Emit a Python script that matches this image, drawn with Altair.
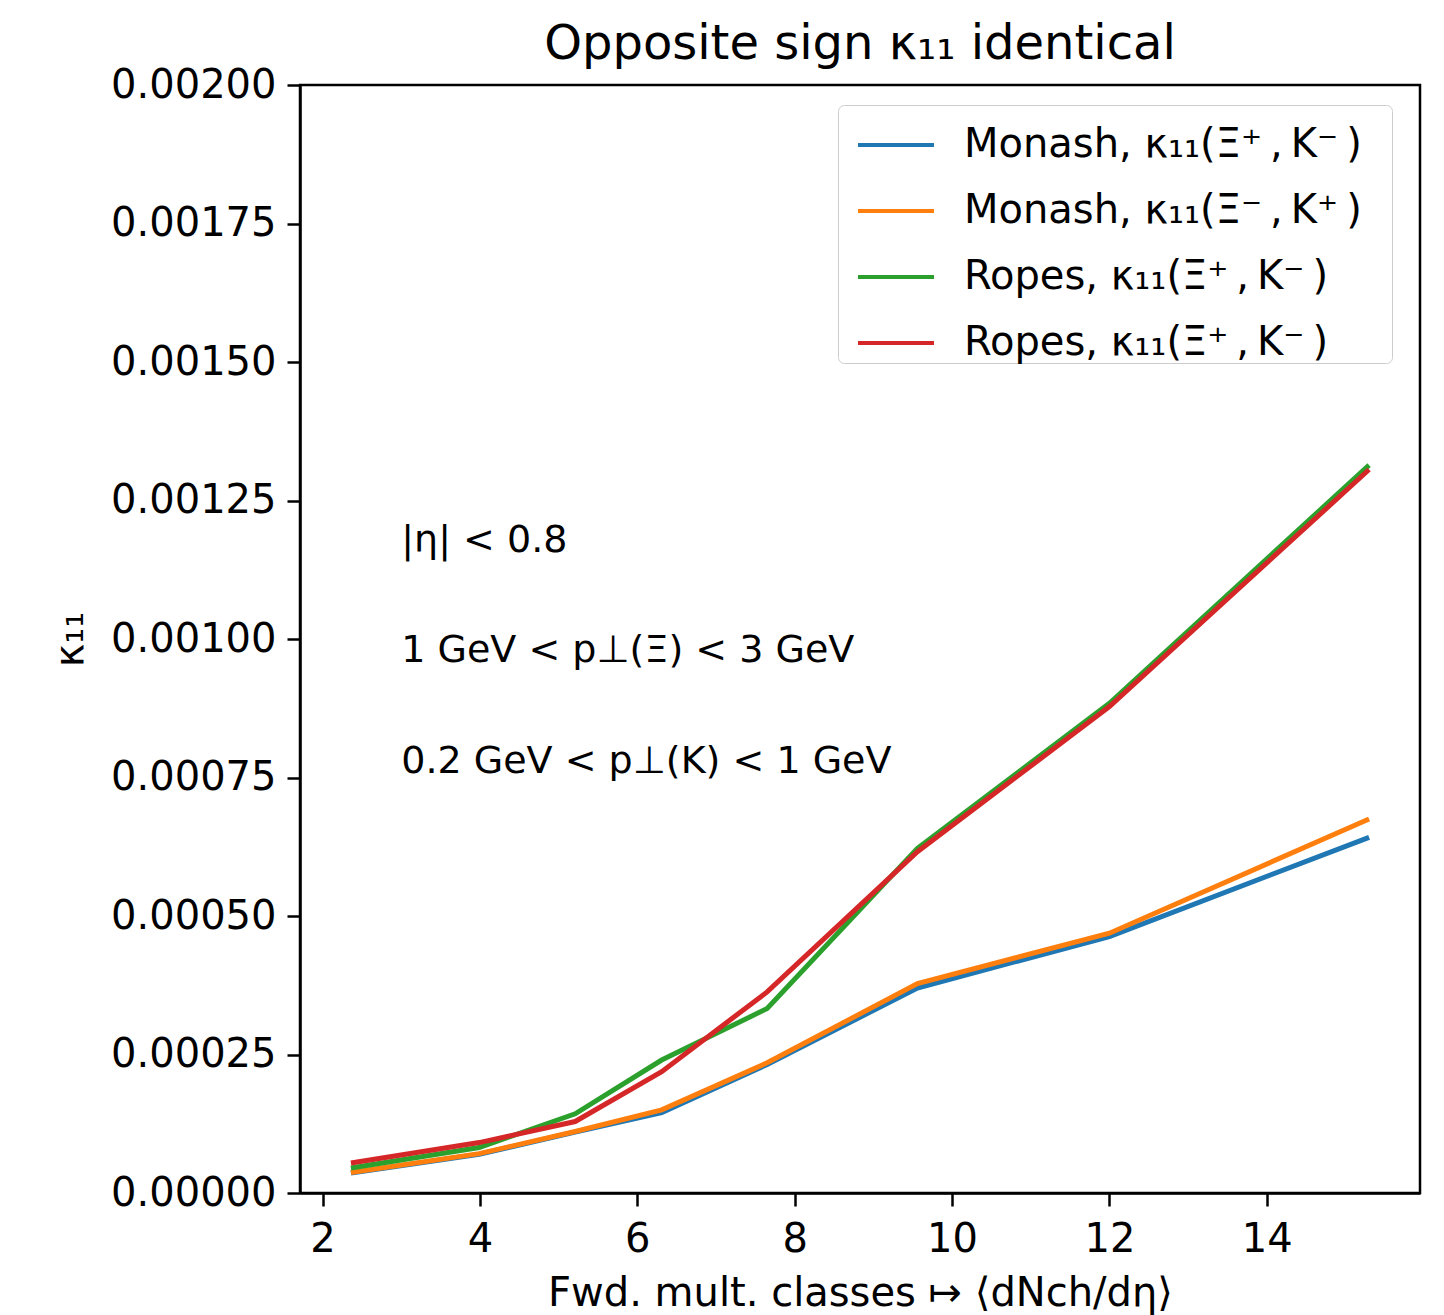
import altair as alt
import pandas as pd

# ---- data ----
x_vals = [2.36, 3.99, 5.21, 6.31, 7.65, 9.56, 12.0, 15.3]
monash_xip_km = [3.6e-5, 7.0e-5, 1.10e-4, 1.45e-4, 2.32e-4, 3.70e-4, 4.63e-4, 6.42e-4]
monash_xim_kp = [3.7e-5, 7.1e-5, 1.11e-4, 1.50e-4, 2.35e-4, 3.78e-4, 4.69e-4, 6.75e-4]
ropes_xip_km_a = [4.5e-5, 8.2e-5, 1.43e-4, 2.40e-4, 3.33e-4, 6.22e-4, 8.84e-4, 1.314e-3]
ropes_xip_km_b = [5.4e-5, 9.1e-5, 1.29e-4, 2.19e-4, 3.63e-4, 6.16e-4, 8.78e-4, 1.306e-3]

series_keys = ["s1", "s2", "s3", "s4"]
series_labels = [
    "Monash, κ₁₁(Ξ⁺\u2009,\u2009K⁻\u2009)\u2800",
    "Monash, κ₁₁(Ξ⁻\u2009,\u2009K⁺\u2009)\u2800",
    "Ropes, κ₁₁(Ξ⁺\u2009,\u2009K⁻\u2009)\u2800",
    "Ropes, κ₁₁(Ξ⁺\u2009,\u2009K⁻\u2009)\u2800",
]
series_colors = ["#1f77b4", "#ff7f0e", "#2ca02c", "#d62728"]

x_ticks = [2, 4, 6, 8, 10, 12, 14]
y_ticks = [0.0, 0.00025, 0.0005, 0.00075, 0.001, 0.00125, 0.0015, 0.00175, 0.002]

ann_x = [3.0, 3.0, 3.0]
ann_y = [0.001177, 0.000978, 0.000778]
ann_text = ["|η| < 0.8", "1 GeV < p⊥(Ξ) < 3 GeV", "0.2 GeV < p⊥(K) < 1 GeV"]

FONT = "DejaVu Sans"
FS = 40

rows = []
for key, vals in zip(series_keys, [monash_xip_km, monash_xim_kp, ropes_xip_km_a, ropes_xip_km_b]):
    for i, (xv, yv) in enumerate(zip(x_vals, vals)):
        rows.append({"x": xv, "y": yv, "series": key, "i": i})
df = pd.DataFrame(rows)

ann_df = pd.DataFrame({"x": ann_x, "y": ann_y, "t": ann_text})

label_map = "{" + ", ".join(f"'{k}': '{v}'" for k, v in zip(series_keys, series_labels)) + "}"

x_enc = alt.X(
    "x:Q",
    scale=alt.Scale(domain=[1.713, 15.947], nice=False, zero=False),
    axis=alt.Axis(values=x_ticks, title="Fwd. mult. classes ↦ ⟨dNch/dη⟩", grid=False,
                  format="d", labelPadding=13, titlePadding=14),
)
y_enc = alt.Y(
    "y:Q",
    scale=alt.Scale(domain=[0, 0.002], nice=False),
    axis=alt.Axis(values=y_ticks, format=".5f", title="κ₁₁", grid=False,
                  labelPadding=11, titlePadding=20),
)

lines = alt.Chart(df).mark_line(strokeWidth=5, clip=True).encode(
    x=x_enc,
    y=y_enc,
    color=alt.Color(
        "series:N",
        scale=alt.Scale(domain=series_keys, range=series_colors),
        legend=alt.Legend(
            title=None,
            orient="none",
            legendX=538,
            legendY=20,
            symbolType="stroke",
            symbolSize=5776,
            symbolStrokeWidth=4,
            symbolOffset=18,
            labelFontSize=FS,
            labelFont=FONT,
            labelColor="black",
            labelLimit=800,
            labelOffset=28,
            labelExpr=label_map + "[datum.label]",
            rowPadding=6,
            padding=0,
            strokeColor="#cccccc",
            fillColor="white",
            cornerRadius=6,
        ),
    ),
    order=alt.Order("i:Q"),
)

ann = alt.Chart(ann_df).mark_text(
    align="left", baseline="middle", fontSize=38, font=FONT, color="black"
).encode(x="x:Q", y="y:Q", text="t:N")

chart = alt.layer(lines, ann).properties(
    width=1120,
    height=1108,
    autosize=alt.AutoSizeParams(type="none"),
    padding={"left": 292, "top": 77, "right": 16, "bottom": 122},
    title=alt.Title("Opposite sign κ₁₁ identical", fontSize=48, fontWeight="normal",
                    font=FONT, color="black", offset=-4),
).configure_view(
    stroke="black", strokeWidth=2.5
).configure_axis(
    domainColor="black", domainWidth=2.5, tickColor="black", tickWidth=2.5, tickSize=13,
    labelFontSize=FS, labelFont=FONT, labelColor="black",
    titleFontSize=FS, titleFont=FONT, titleFontWeight="normal", titleColor="black",
)

chart.save("out.html", embed_options={"renderer": "svg", "actions": False})
